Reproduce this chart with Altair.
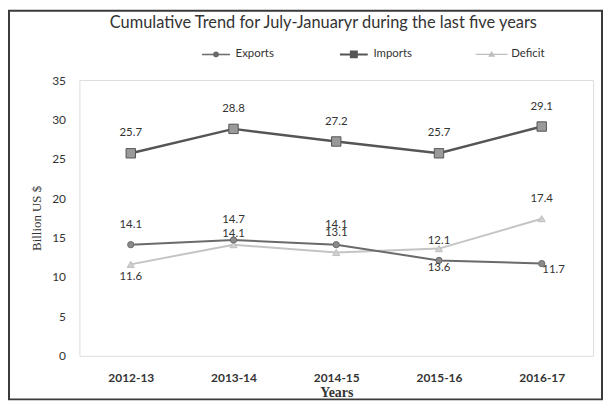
import altair as alt
import pandas as pd

years = ["2012-13", "2013-14", "2014-15", "2015-16", "2016-17"]
exports = [14.1, 14.7, 14.1, 12.1, 11.7]
imports_ = [25.7, 28.8, 27.2, 25.7, 29.1]
deficit = [11.6, 14.1, 13.1, 13.6, 17.4]
series = ["Exports", "Imports", "Deficit"]

# label placement per point (style, not data)
placement = {
    "Exports": ["above", "above", "above", "above", "right"],
    "Imports": ["above", "above", "above", "above", "above"],
    "Deficit": ["below", "near", "above", "below2", "above"],
}

rows = []
for name, vals in zip(series, [exports, imports_, deficit]):
    for i, (yr, v) in enumerate(zip(years, vals)):
        rows.append({"year": yr, "series": name, "value": v, "pos": placement[name][i]})
df = pd.DataFrame(rows)

line_colors = {"Exports": "#6a6a6a", "Imports": "#555555", "Deficit": "#c4c4c4"}
marker = {
    "Exports": dict(shape="circle", size=40, fill="#8a8a8a", stroke="#6a6a6a"),
    "Imports": dict(shape="square", size=90, fill="#9a9a9a", stroke="#555555"),
    "Deficit": dict(shape="triangle-up", size=50, fill="#d0d0d0", stroke="#bdbdbd"),
}
widths = {"Exports": 2, "Imports": 2.5, "Deficit": 2}

FONT = "Lato"

x = alt.X("year:N", sort=years, scale=alt.Scale(type="point", padding=0.5),
          axis=alt.Axis(title="Years", labelAngle=0, ticks=False, domain=False,
                        labelFont=FONT, labelFontSize=12, labelFontWeight="bold",
                        labelColor="#333", labelPadding=17,
                        titleFont="Liberation Serif", titleFontSize=14, titleFontWeight="bold",
                        titleColor="#333", titlePadding=2))
y = alt.Y("value:Q", scale=alt.Scale(domain=[0, 35]),
          axis=alt.Axis(title="Billion US $", values=[0, 5, 10, 15, 20, 25, 30, 35],
                        grid=False, ticks=False, domain=False,
                        labelFont=FONT, labelFontSize=12, labelColor="#333", labelPadding=14,
                        titleFont="Liberation Serif", titleFontSize=13, titleFontWeight="normal",
                        titleColor="#333", titlePadding=8))

base = alt.Chart(df)
layers = []

border = alt.Chart(pd.DataFrame({"a": [0]})).mark_rect(
    fill=None, stroke="#3a3a3a", strokeWidth=2
).encode(x=alt.value(-71), x2=alt.value(527), y=alt.value(-70), y2=alt.value(322))
layers.append(border)

for name in ["Deficit", "Exports", "Imports"]:
    sub = base.transform_filter(alt.datum.series == name)
    layers.append(sub.mark_line(color=line_colors[name], strokeWidth=widths[name]).encode(x=x, y=y))
    m = marker[name]
    layers.append(sub.mark_point(shape=m["shape"], size=m["size"], filled=True,
                                 fill=m["fill"], stroke=m["stroke"], strokeWidth=1,
                                 opacity=1).encode(x=x, y=y))

text_style = dict(font=FONT, fontSize=11.5, color="#333")
offsets = {"above": (0, -20), "near": (0, -11), "below": (0, 13), "below2": (0, 20), "right": (12, 7)}
for pos, (dx, dy) in offsets.items():
    layers.append(base.transform_filter(alt.datum.pos == pos).mark_text(dx=dx, dy=dy, **text_style)
                  .encode(x=x, y=y, text=alt.Text("value:Q", format=".1f")))

paths = [
    "M-2.8,-0.15H2.8V0.15H-2.8Z M-0.6,0A0.6,0.6 0 1,1 0.6,0A0.6,0.6 0 1,1 -0.6,0Z",
    "M-2.8,-0.2H2.8V0.2H-2.8Z M-0.8,-0.8H0.8V0.8H-0.8Z",
    "M-3.2,-0.12H3.2V0.12H-3.2Z M0,-0.7L0.7,0.5H-0.7Z",
]
leg = alt.Legend(title=None, orient="none", legendX=132, legendY=-32, direction="horizontal",
                 labelFont=FONT, labelFontSize=11.5, labelColor="#333", labelOffset=14,
                 symbolSize=100, columnPadding=63, gridAlign="all", symbolStrokeWidth=0)
legend_layer = base.transform_filter("false").mark_point(filled=True, opacity=1).encode(
    x=x, y=y,
    color=alt.Color("series:N", scale=alt.Scale(domain=series,
                    range=[line_colors["Exports"], line_colors["Imports"], "#bdbdbd"]), legend=leg),
    shape=alt.Shape("series:N", scale=alt.Scale(domain=series, range=paths), legend=leg),
)
layers.append(legend_layer)

chart = alt.layer(*layers).properties(
    width=518, height=278,
    title=alt.TitleParams("Cumulative Trend for July-Januaryr  during the last five years",
                          font=FONT, fontSize=16.5, fontWeight="normal", color="#333",
                          anchor="middle", dx=-13, offset=-22),
    autosize=alt.AutoSizeParams(type="none"),
    padding={"left": 72, "top": 71, "right": 10, "bottom": 45},
).configure_view(stroke="#8a8a8a", strokeWidth=1).configure(background="white")

chart.save("out.html", embed_options={"renderer": "svg", "actions": False})
